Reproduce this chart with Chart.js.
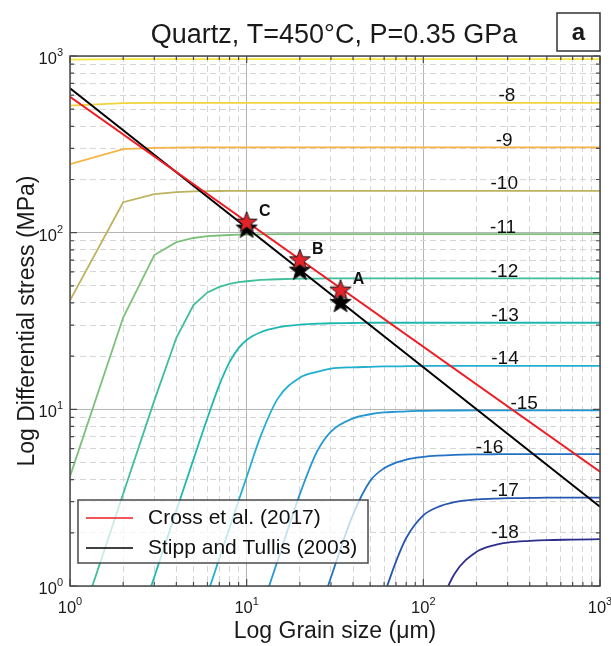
<!DOCTYPE html>
<html>
<head>
<meta charset="utf-8">
<script src="https://cdn.jsdelivr.net/npm/chart.js@4.4.1/dist/chart.umd.min.js"></script>
<style>
    html, body { margin: 0; padding: 0; background: #fff; }
</style>
</head>
<body>
<canvas id="myChart" width="611" height="646"></canvas>
<script>
const FONT = '"Liberation Sans", Arial, Helvetica, sans-serif';

// grain size samples (µm) shared by all strain-rate curves
const grainSizes = [1, 2, 3, 4, 5, 6, 7, 8, 9, 10, 12, 15, 20, 25, 30, 40, 50, 60, 70, 80, 100, 120, 150, 200, 250, 300, 400, 500, 700, 1000];

// differential stress (MPa) along each log strain-rate contour
const stressM7 = [953, 959, 959, 959, 959, 959, 959, 959, 959, 959, 959, 959, 959, 959, 959, 959, 959, 959, 959, 959, 959, 959, 959, 959, 959, 959, 959, 959, 959, 959];
const stressM8 = [524, 541, 543, 543, 543, 543, 543, 543, 543, 543, 543, 543, 543, 543, 543, 543, 543, 543, 543, 543, 543, 543, 543, 543, 543, 543, 543, 543, 543, 543];
const stressM9 = [244, 297, 302, 303.3, 303.6, 304, 304, 304, 304, 304, 304, 304, 304, 304, 304, 304, 304, 304, 304, 304, 304, 304, 304, 304, 304, 304, 304, 304, 304, 304];
const stressM10 = [41.4, 148.7, 165.4, 169.6, 171.1, 171.7, 172.1, 172.3, 172.4, 172.5, 172.6, 172.6, 172.6, 172.6, 172.6, 172.6, 172.6, 172.6, 172.6, 172.6, 172.6, 172.6, 172.6, 172.6, 172.6, 172.6, 172.6, 172.6, 172.6, 172.6];
const stressM11 = [4.17, 33.1, 74.7, 88.4, 93.3, 95.6, 96.4, 97.0, 97.4, 97.6, 97.9, 98.0, 98.1, 98.2, 98.2, 98.2, 98.2, 98.2, 98.2, 98.2, 98.2, 98.2, 98.2, 98.2, 98.2, 98.2, 98.2, 98.2, 98.2, 98.2];
const stressM12 = [0.417, 3.33, 11.2, 25.4, 38.9, 45.9, 49.3, 51.3, 52.5, 53.1, 54.0, 54.5, 54.9, 55.0, 55.1, 55.1, 55.1, 55.1, 55.1, 55.1, 55.1, 55.1, 55.1, 55.1, 55.1, 55.1, 55.1, 55.1, 55.1, 55.1];
const stressM13 = [null, 0.333, 1.125, 2.67, 5.21, 8.93, 13.7, 18.5, 22.2, 24.7, 27.3, 29.1, 30.2, 30.5, 30.7, 30.8, 30.9, 30.9, 30.9, 30.9, 30.9, 30.9, 30.9, 30.9, 30.9, 30.9, 30.9, 30.9, 30.9, 30.9];
const stressM14 = [null, null, null, null, null, 0.90, 1.43, 2.13, 3.04, 4.14, 7.05, 11.5, 15.1, 16.3, 17.0, 17.3, 17.4, 17.5, 17.5, 17.55, 17.6, 17.6, 17.6, 17.6, 17.6, 17.6, 17.6, 17.6, 17.6, 17.6];
const stressM15 = [null, null, null, null, null, null, null, null, null, 0.417, 0.72, 1.40, 3.31, 5.76, 7.49, 8.88, 9.38, 9.60, 9.68, 9.75, 9.80, 9.83, 9.85, 9.86, 9.86, 9.86, 9.86, 9.86, 9.86, 9.86];
const stressM16 = [null, null, null, null, null, null, null, null, null, null, null, null, 0.333, 0.651, 1.12, 2.54, 3.93, 4.64, 4.99, 5.20, 5.38, 5.47, 5.53, 5.56, 5.57, 5.58, 5.58, 5.58, 5.58, 5.58];
const stressM17 = [null, null, null, null, null, null, null, null, null, null, null, null, null, null, null, 0.27, 0.52, 0.89, 1.375, 1.87, 2.51, 2.79, 2.98, 3.09, 3.12, 3.14, 3.15, 3.16, 3.16, 3.16];
const stressM18 = [null, null, null, null, null, null, null, null, null, null, null, null, null, null, null, null, null, null, null, null, 0.414, 0.709, 1.17, 1.56, 1.70, 1.76, 1.80, 1.82, 1.83, 1.84];

const levelStress = [stressM7, stressM8, stressM9, stressM10, stressM11, stressM12, stressM13, stressM14, stressM15, stressM16, stressM17, stressM18];
const levelNames = ['-7', '-8', '-9', '-10', '-11', '-12', '-13', '-14', '-15', '-16', '-17', '-18'];
const levelColors = ['#f4e53c', '#f0d43e', '#f6b446', '#bdb35e', '#7dc07c', '#3fbe9b', '#1fb8b0', '#22afd0', '#2597d2', '#2172c4', '#2756b0', '#2c2f8c'];
const labelGrain = [null, 297, 287, 287, 283, 288, 290, 290, 372, 237, 290, 290];

// piezometers
const crossGrain = [1, 1000];
const crossStress = [587, 4.43];
const stippGrain = [1, 1000];
const stippStress = [656, 2.81];

// samples A, B, C
const starNames = ['C', 'B', 'A'];
const starGrain = [10, 20, 34];
const crossStarStress = [115.4, 70.7, 47.6];
const stippStarStress = [106.9, 61.8, 40.6];

// axes
const gridTicks = [1, 2, 3, 4, 5, 6, 7, 8, 9, 10, 20, 30, 40, 50, 60, 70, 80, 90, 100, 200, 300, 400, 500, 600, 700, 800, 900, 1000];
const majorTicks = [1, 10, 100, 1000];
const majorExponents = ['0', '1', '2', '3'];

function toPoints(xs, ys) {
    return xs.map((x, i) => ({ x: x, y: ys[i] })).filter((p) => p.y !== null);
}

function makeStar(fill) {
    const c = document.createElement('canvas');
    c.width = 26;
    c.height = 26;
    const g = c.getContext('2d');
    g.beginPath();
    for (let i = 0; i < 10; i++) {
        const r = i % 2 === 0 ? 11 : 4.6;
        const ang = -Math.PI / 2 + i * Math.PI / 5;
        const px = 13 + r * Math.cos(ang);
        const py = 14 + r * Math.sin(ang);
        if (i === 0) g.moveTo(px, py); else g.lineTo(px, py);
    }
    g.closePath();
    g.fillStyle = fill;
    g.fill();
    g.lineWidth = 1;
    g.strokeStyle = '#1a1a1a';
    g.stroke();
    return c;
}

const datasets = [];

datasets.push({
    label: 'Cross stars',
    data: toPoints(starGrain, crossStarStress),
    showLine: false,
    pointStyle: makeStar('#e3232a'),
    pointRadius: 10,
    order: 0
});
datasets.push({
    label: 'Stipp stars',
    data: toPoints(starGrain, stippStarStress),
    showLine: false,
    pointStyle: makeStar('#000000'),
    pointRadius: 10,
    order: 1
});
datasets.push({
    label: 'Cross et al. (2017)',
    data: toPoints(crossGrain, crossStress),
    borderColor: '#ee1c24',
    borderWidth: 2,
    pointRadius: 0,
    order: 2
});
datasets.push({
    label: 'Stipp and Tullis (2003)',
    data: toPoints(stippGrain, stippStress),
    borderColor: '#000000',
    borderWidth: 2,
    pointRadius: 0,
    order: 3
});
levelStress.forEach((stress, i) => {
    datasets.push({
        label: levelNames[i],
        data: toPoints(grainSizes, stress),
        borderColor: levelColors[i],
        borderWidth: 1.8,
        pointRadius: 0,
        cubicInterpolationMode: i >= 6 ? 'monotone' : 'default',
        tension: 0,
        order: 10 + i
    });
});

function gridColor(ctx) {
    return ctx.tick && majorTicks.includes(ctx.tick.value) ? '#b4b4b4' : '#d6d6d6';
}

function gridDash(ctx) {
    return ctx.tick && majorTicks.includes(ctx.tick.value) ? [] : [6, 4];
}

function logAxis() {
    return {
        type: 'logarithmic',
        min: 1,
        max: 1000,
        afterBuildTicks: (scale) => {
            scale.ticks = gridTicks.map((v) => ({ value: v }));
        },
        ticks: { display: false },
        grid: { drawTicks: false, color: gridColor, lineWidth: 1 },
        border: { display: false, dash: gridDash }
    };
}

function drawPower(ctx, exp, x, y, align) {
    ctx.font = '16.5px ' + FONT;
    const w1 = ctx.measureText('10').width;
    ctx.font = '11px ' + FONT;
    const w2 = ctx.measureText(exp).width;
    const start = align === 'center' ? x - (w1 + w2) / 2 : x - w1 - w2;
    ctx.textAlign = 'left';
    ctx.textBaseline = 'alphabetic';
    ctx.font = '16.5px ' + FONT;
    ctx.fillText('10', start, y);
    ctx.font = '11px ' + FONT;
    ctx.fillText(exp, start + w1, y - 8);
}

const decorPlugin = {
    id: 'decor',
    afterDatasetsDraw(chart) {
        const { ctx, chartArea: a, scales } = chart;
        const xs = scales.x;
        const ys = scales.y;
        ctx.save();

        // contour labels
        ctx.fillStyle = '#111';
        ctx.font = '19px ' + FONT;
        ctx.textAlign = 'center';
        ctx.textBaseline = 'alphabetic';
        levelNames.forEach((name, i) => {
            if (labelGrain[i] === null) return;
            const stress = levelStress[i];
            const px = xs.getPixelForValue(labelGrain[i]);
            const py = ys.getPixelForValue(stress[stress.length - 1]);
            ctx.fillText(name, px, py - 1.5);
        });

        // sample letters
        ctx.font = 'bold 16px ' + FONT;
        ctx.textBaseline = 'middle';
        starNames.forEach((name, i) => {
            const px = xs.getPixelForValue(starGrain[i]);
            const py = ys.getPixelForValue(crossStarStress[i]);
            ctx.fillText(name, px + 18, py - 10);
        });

        // frame and inward ticks
        ctx.strokeStyle = '#4a4a4a';
        ctx.lineWidth = 1.5;
        ctx.strokeRect(a.left, a.top, a.right - a.left, a.bottom - a.top);
        ctx.lineWidth = 1.2;
        ctx.beginPath();
        gridTicks.forEach((v) => {
            const len = majorTicks.includes(v) ? 7 : 4;
            const px = xs.getPixelForValue(v);
            const py = ys.getPixelForValue(v);
            ctx.moveTo(px, a.bottom); ctx.lineTo(px, a.bottom - len);
            ctx.moveTo(px, a.top); ctx.lineTo(px, a.top + len);
            ctx.moveTo(a.left, py); ctx.lineTo(a.left + len, py);
            ctx.moveTo(a.right, py); ctx.lineTo(a.right - len, py);
        });
        ctx.stroke();

        // legend
        ctx.fillStyle = 'rgba(255,255,255,0.72)';
        ctx.fillRect(78, 500, 290, 63);
        ctx.strokeStyle = '#4a4a4a';
        ctx.lineWidth = 1.5;
        ctx.strokeRect(78, 500, 290, 63);
        ctx.lineWidth = 1.5;
        ctx.strokeStyle = '#ee1c24';
        ctx.beginPath(); ctx.moveTo(86, 518); ctx.lineTo(133, 518); ctx.stroke();
        ctx.strokeStyle = '#000';
        ctx.beginPath(); ctx.moveTo(86, 548); ctx.lineTo(133, 548); ctx.stroke();
        ctx.fillStyle = '#111';
        ctx.font = '21px ' + FONT;
        ctx.textAlign = 'left';
        ctx.textBaseline = 'middle';
        ctx.fillText('Cross et al. (2017)', 148, 518);
        ctx.fillText('Stipp and Tullis (2003)', 148, 548);
        ctx.restore();
    },
    afterDraw(chart) {
        const { ctx, chartArea: a, scales } = chart;
        ctx.save();
        ctx.fillStyle = '#1a1a1a';

        majorTicks.forEach((v, i) => {
            drawPower(ctx, majorExponents[i], scales.x.getPixelForValue(v), 613, 'center');
            drawPower(ctx, majorExponents[i], 63, scales.y.getPixelForValue(v) + 8, 'right');
        });

        ctx.textAlign = 'center';
        ctx.textBaseline = 'alphabetic';
        ctx.font = '27px ' + FONT;
        ctx.fillText('Quartz, T=450°C, P=0.35 GPa', 334, 43);

        ctx.font = '23px ' + FONT;
        ctx.fillText('Log Grain size (μm)', (a.left + a.right) / 2, 638);

        ctx.save();
        ctx.translate(34, (a.top + a.bottom) / 2);
        ctx.rotate(-Math.PI / 2);
        ctx.fillText('Log Differential stress (MPa)', 0, 0);
        ctx.restore();

        ctx.strokeStyle = '#333';
        ctx.lineWidth = 1.5;
        ctx.strokeRect(557, 13, 43, 38);
        ctx.font = 'bold 24px ' + FONT;
        ctx.fillText('a', 578.5, 40);
        ctx.restore();
    }
};

const config = {
    type: 'line',
    data: { datasets: datasets },
    options: {
        responsive: false,
        animation: false,
        layout: { padding: { left: 70, right: 11, top: 56, bottom: 60 } },
        plugins: { legend: { display: false }, tooltip: { enabled: false } },
        scales: { x: logAxis(), y: logAxis() }
    },
    plugins: [decorPlugin]
};

window.onload = function () {
    new Chart(document.getElementById('myChart'), config);
};
</script>
</body>
</html>
